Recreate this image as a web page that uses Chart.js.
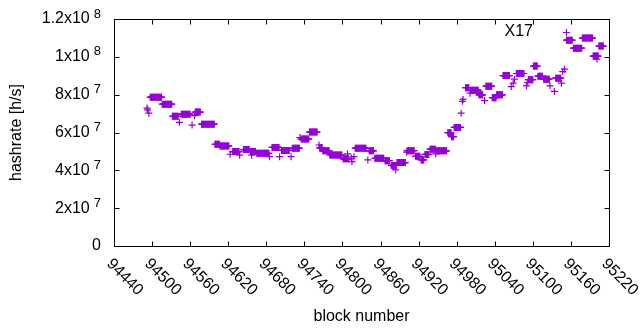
<!DOCTYPE html>
<html><head><meta charset="utf-8">
<script src="https://cdn.jsdelivr.net/npm/chart.js@4.4.1/dist/chart.umd.min.js"></script>
<style>html,body{margin:0;padding:0;background:#fff;} #wrap{width:640px;height:330px;}</style>
</head><body>
<div id="wrap"><canvas id="c" width="640" height="330"></canvas></div>
<script>
// Runs of consecutive blocks sharing the same hashrate (units of 1e6 h/s)
const runStart = [94497,94516,94532,94546,94568,94578,94599,94607,94627,94644,94655,94665,94689,94704,94721,94735,94748,94764,94769,94780,94801,94820,94842,94851,94867,94877,94886,94902,94915,94924,94930,94938,94949,94966,94972,94976,94994,95002,95015,95026,95036,95043,95053,95074,95093,95101,95108,95117,95136,95153,95164,95178,95195,95204];
const runEnd   = [94515,94531,94541,94560,94576,94598,94606,94621,94637,94653,94663,94684,94700,94716,94732,94747,94760,94768,94779,94799,94810,94837,94849,94865,94874,94885,94899,94913,94922,94928,94936,94947,94964,94971,94975,94986,94999,95014,95021,95035,95042,95052,95063,95086,95100,95107,95115,95126,95144,95162,95177,95194,95203,95211];
const runValue = [78.7,75.0,68.6,69.7,70.8,64.4,53.8,52.9,49.9,51.0,49.9,49.0,52.1,50.5,51.7,56.5,60.2,51.9,50.3,48.1,46.1,51.7,50.3,46.4,45.1,42.6,44.1,50.4,47.4,45.5,48.4,51.2,50.3,59.9,57.8,62.7,83.7,82.4,79.9,84.5,78.4,79.9,90.1,91.2,87.9,95.1,89.8,88.2,88.7,108.8,104.6,109.9,100.4,105.7];
// Isolated blocks
const pointBlock = [94492,94493,94495,94543,94563,94567,94623,94638,94657,94685,94701,94719,94733,94763,94808,94814,94815,94818,94840,94880,94884,94901,94947,94987,94989,94990,95001,95015,95024,95066,95069,95071,95090,95092,95127,95134,95145,95147,95150,95201];
const pointValue = [72.9,72.0,70.2,65.4,63.9,68.9,48.5,48.0,48.0,47.2,47.2,47.2,57.3,53.4,48.7,46.5,44.6,47.2,45.5,41.9,40.2,49.6,48.7,70.2,76.5,77.5,80.8,80.8,76.9,84.3,86.1,88.2,84.7,86.5,84.7,81.7,86.1,92.2,93.5,98.8];

const xTicks = [94440,94500,94560,94620,94680,94740,94800,94860,94920,94980,95040,95100,95160,95220];
const yTicks = [0,20,40,60,80,100,120];
const yTickBase = ['0','2x10','4x10','6x10','8x10','1x10','1.2x10'];
const yTickExp  = ['','7','7','7','7','8','8'];
const seriesName = 'X17';
const xTitle = 'block number';
const yTitle = 'hashrate [h/s]';

const COLOR = '#9400D3';
const FONT = '16px "Liberation Sans", Arial, sans-serif';
const FONT_SMALL = '13px "Liberation Sans", Arial, sans-serif';

const data = [];
for (let i = 0; i < runStart.length; i++) {
  for (let b = runStart[i]; b <= runEnd[i]; b++) data.push({x: b, y: runValue[i]});
}
for (let i = 0; i < pointBlock.length; i++) data.push({x: pointBlock[i], y: pointValue[i]});

const gnuplotFrame = {
  id: 'gnuplotFrame',
  afterDraw(chart) {
    const ctx = chart.ctx;
    const a = chart.chartArea;
    const xs = chart.scales.x, ys = chart.scales.y;
    ctx.save();
    ctx.strokeStyle = '#000';
    ctx.lineWidth = 1;
    const L = Math.round(a.left) + 0.5, R = Math.round(a.right) + 0.5;
    const T = Math.round(a.top) + 0.5, B = Math.round(a.bottom) + 0.5;
    ctx.beginPath();
    ctx.rect(L, T, R - L, B - T);
    const tl = 5;
    xTicks.forEach(v => {
      const px = Math.round(xs.getPixelForValue(v)) + 0.5;
      ctx.moveTo(px, B); ctx.lineTo(px, B - tl);
      ctx.moveTo(px, T); ctx.lineTo(px, T + tl);
    });
    yTicks.forEach(v => {
      const py = Math.round(ys.getPixelForValue(v)) + 0.5;
      ctx.moveTo(L, py); ctx.lineTo(L + tl, py);
      ctx.moveTo(R, py); ctx.lineTo(R - tl, py);
    });
    ctx.stroke();

    ctx.fillStyle = '#000';
    // y tick labels with exponents
    yTicks.forEach((v, i) => {
      const py = ys.getPixelForValue(v);
      let xr = 101;
      ctx.textBaseline = 'middle';
      ctx.textAlign = 'right';
      if (yTickExp[i]) {
        ctx.font = FONT_SMALL;
        ctx.fillText(yTickExp[i], xr, py - 5);
        const w = ctx.measureText(yTickExp[i]).width;
        xr -= w + 4;
      }
      ctx.font = FONT;
      ctx.fillText(yTickBase[i], xr, py);
    });
    // x tick labels rotated
    ctx.font = FONT;
    xTicks.forEach(v => {
      const px = xs.getPixelForValue(v);
      ctx.save();
      ctx.translate(px - 5, B + 15);
      ctx.rotate(Math.PI / 4);
      ctx.textAlign = 'left';
      ctx.textBaseline = 'middle';
      ctx.fillText(String(v), 0, 0);
      ctx.restore();
    });
    // axis titles
    ctx.textAlign = 'center';
    ctx.textBaseline = 'middle';
    ctx.fillText(xTitle, (a.left + a.right) / 2, 317);
    ctx.save();
    ctx.translate(17, (a.top + a.bottom) / 2);
    ctx.rotate(-Math.PI / 2);
    ctx.fillText(yTitle, 0, 0);
    ctx.restore();
    // key
    ctx.textAlign = 'right';
    ctx.fillText(seriesName, 533, 32);
    ctx.strokeStyle = COLOR;
    ctx.lineWidth = 1.2;
    ctx.beginPath();
    ctx.moveTo(566.5, 32.5 - 3.5); ctx.lineTo(566.5, 32.5 + 3.5);
    ctx.moveTo(566.5 - 3.5, 32.5); ctx.lineTo(566.5 + 3.5, 32.5);
    ctx.stroke();
    ctx.restore();
  }
};

new Chart(document.getElementById('c'), {
  type: 'scatter',
  data: { datasets: [{
    label: seriesName,
    data: data,
    pointStyle: 'cross',
    pointRadius: 3.5,
    pointBorderWidth: 1.2,
    borderColor: COLOR,
    backgroundColor: COLOR,
    pointHoverRadius: 3.5
  }]},
  options: {
    responsive: false,
    animation: false,
    devicePixelRatio: 1,
    layout: { padding: { left: 0, right: 31, top: 19, bottom: 0 } },
    plugins: { legend: { display: false }, tooltip: { enabled: false } },
    scales: {
      x: {
        type: 'linear', min: 94440, max: 95220,
        grid: { display: false }, border: { display: false },
        ticks: { display: false },
        afterFit(s) { s.height = 84; }
      },
      y: {
        type: 'linear', min: 0, max: 120,
        grid: { display: false }, border: { display: false },
        ticks: { display: false },
        afterFit(s) { s.width = 114; }
      }
    }
  },
  plugins: [gnuplotFrame]
});
</script>
</body></html>
